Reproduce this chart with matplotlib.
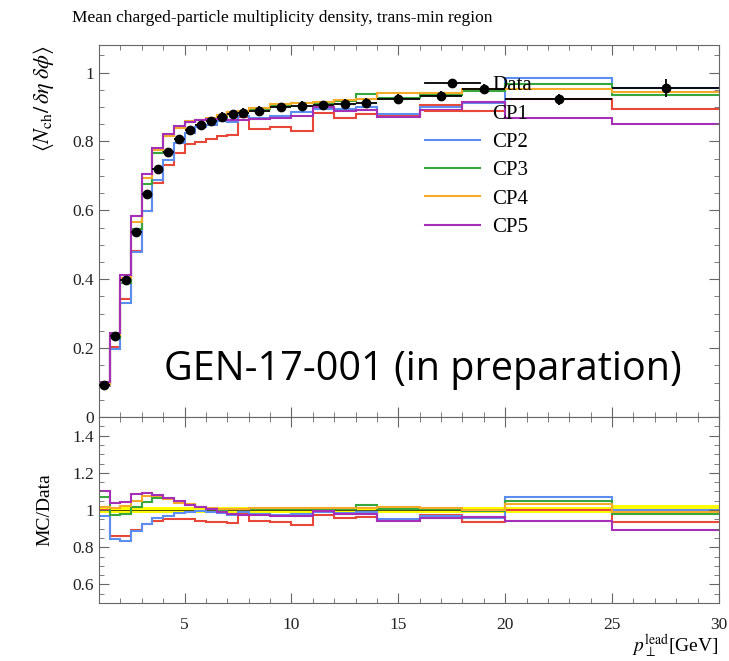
import numpy as np
import matplotlib
matplotlib.use("Agg")
import matplotlib.pyplot as plt
from matplotlib.ticker import MultipleLocator, FuncFormatter
from matplotlib.lines import Line2D

# bin edges in p_T lead [GeV]
edges = [1, 1.5, 2, 2.5, 3, 3.5, 4, 4.5, 5, 5.5, 6, 6.5, 7, 7.5, 8,
         9, 10, 11, 12, 13, 14, 16, 18, 20, 25, 30]

data = [0.092, 0.235, 0.397, 0.538, 0.646, 0.720, 0.770, 0.807, 0.833, 0.848,
        0.860, 0.872, 0.880, 0.884, 0.889, 0.899, 0.904, 0.905, 0.909, 0.912,
        0.924, 0.933, 0.952, 0.922, 0.955]
data_err = [0.0014, 0.0035, 0.006, 0.008, 0.0095, 0.0105, 0.011, 0.0115, 0.012, 0.012,
            0.0122, 0.0124, 0.0125, 0.0125, 0.0126, 0.0127, 0.0128, 0.0128, 0.013, 0.013,
            0.013, 0.014, 0.015, 0.015, 0.025]

# MC / Data ratios
ratio_cp1 = [1.000, 0.862, 0.862, 0.894, 0.924, 0.942, 0.951, 0.951, 0.951, 0.942,
             0.937, 0.935, 0.930, 0.985, 0.940, 0.935, 0.920, 0.975, 0.955, 0.963,
             0.948, 0.972, 0.934, 1.000, 0.935]
ratio_cp2 = [0.969, 0.843, 0.834, 0.888, 0.924, 0.955, 0.969, 0.985, 0.991, 0.994,
             0.987, 0.985, 0.972, 0.988, 0.976, 0.973, 0.978, 0.988, 0.985, 0.987,
             0.952, 0.966, 0.958, 1.068, 1.000]
ratio_cp3 = [1.068, 0.972, 0.980, 1.015, 1.045, 1.066, 1.058, 1.045, 1.027, 1.018,
             1.007, 1.000, 1.005, 1.005, 1.005, 1.005, 1.008, 1.008, 1.008, 1.028,
             1.003, 1.003, 0.995, 1.050, 0.978]
ratio_cp4 = [1.014, 1.010, 1.020, 1.050, 1.074, 1.077, 1.060, 1.040, 1.030, 1.018,
             1.009, 1.005, 1.005, 1.005, 1.010, 1.010, 1.010, 1.012, 1.012, 1.012,
             1.018, 1.009, 1.000, 1.032, 0.987]
ratio_cp5 = [1.104, 1.035, 1.041, 1.085, 1.090, 1.083, 1.066, 1.047, 1.028, 1.018,
             1.005, 0.991, 0.980, 0.975, 0.972, 0.966, 0.966, 0.993, 0.978, 0.978,
             0.942, 0.955, 0.960, 0.940, 0.890]

labels = ["CP1", "CP2", "CP3", "CP4", "CP5"]
colors = ["#e8483a", "#5b8ef0", "#34a83c", "#f5aa2a", "#a62fb8"]
ratios = [ratio_cp1, ratio_cp2, ratio_cp3, ratio_cp4, ratio_cp5]

plt.rcParams["font.family"] = ["Liberation Serif", "DejaVu Serif"]
plt.rcParams["mathtext.fontset"] = "stix"

edges_a = np.array(edges)
centers = 0.5 * (edges_a[1:] + edges_a[:-1])
halfw = 0.5 * (edges_a[1:] - edges_a[:-1])
data_a = np.array(data)
err_a = np.array(data_err)

fig = plt.figure(figsize=(7.29, 6.61), dpi=100)
L, R = 99 / 729, 719 / 729
ax = fig.add_axes([L, 1 - 417 / 661, R - L, (417 - 45) / 661])
axr = fig.add_axes([L, 1 - 603 / 661, R - L, (603 - 417) / 661], sharex=ax)

frame = "#666666"
for a in (ax, axr):
    for s in a.spines.values():
        s.set_color(frame)
    a.tick_params(which="both", direction="in", top=True, right=True, colors=frame,
                  labelcolor="#222222", labelsize=12.5)
    a.tick_params(which="major", length=7)
    a.tick_params(which="minor", length=3.5)
    a.xaxis.set_major_locator(MultipleLocator(5))
    a.xaxis.set_minor_locator(MultipleLocator(1))
    a.yaxis.set_major_formatter(FuncFormatter(lambda v, p: f"{v:g}"))

# main panel
for r, c, lab in zip(ratios, colors, labels):
    ax.stairs(data_a * np.array(r), edges, baseline=None, color=c, lw=1.5, label=lab)
ax.errorbar(centers, data, yerr=data_err, xerr=halfw, fmt="o", color="black",
            ms=6, lw=1.3, capsize=0, zorder=5)
ax.set_xlim(1, 30)
ax.set_ylim(0, 1.08)
ax.yaxis.set_major_locator(MultipleLocator(0.2))
ax.yaxis.set_minor_locator(MultipleLocator(0.05))
ax.tick_params(labelbottom=False)
ax.set_ylabel(r"$\langle N_\mathrm{ch}/\,\delta\eta\;\delta\phi\rangle$", loc="top",
              fontsize=16, labelpad=12)

handles = [Line2D([], [], color="black", marker="o", ms=6, lw=1.3)]
handles += [Line2D([], [], color=c, lw=1.5) for c in colors]
ax.legend(handles, ["Data"] + labels, loc="upper left", bbox_to_anchor=(0.513, 0.94),
          frameon=False, fontsize=15, handlelength=2.6, handletextpad=0.6,
          labelspacing=0.42, borderaxespad=0)

# ratio panel
band = err_a / data_a
axr.stairs(1 + band, edges, baseline=1 - band, fill=True, color="#ffff00", lw=0)
axr.stairs(np.ones(len(data)), edges, baseline=None, color="#333300", lw=0.6)
for r, c in zip(ratios, colors):
    axr.stairs(r, edges, baseline=None, color=c, lw=1.5)
axr.set_ylim(0.5, 1.5)
axr.yaxis.set_major_locator(MultipleLocator(0.2))
axr.yaxis.set_minor_locator(MultipleLocator(0.05))
axr.set_ylabel("MC/Data", fontsize=14, labelpad=14)
axr.set_xlabel(r"$p_\perp^\mathrm{lead}$[GeV]", loc="right", fontsize=14, labelpad=0)
axr.tick_params(axis="x", pad=10)

fig.text(72 / 729, 1 - 18 / 661, "Mean charged-particle multiplicity density, trans-min region",
         ha="left", va="center", fontsize=12.5)
fig.text(423 / 729, 1 - 370 / 661, "GEN-17-001 (in preparation)", ha="center", va="center",
         fontsize=28.5, family=["Open Sans", "DejaVu Sans"], color="black", zorder=10)

fig.savefig("out.png", dpi=100)
